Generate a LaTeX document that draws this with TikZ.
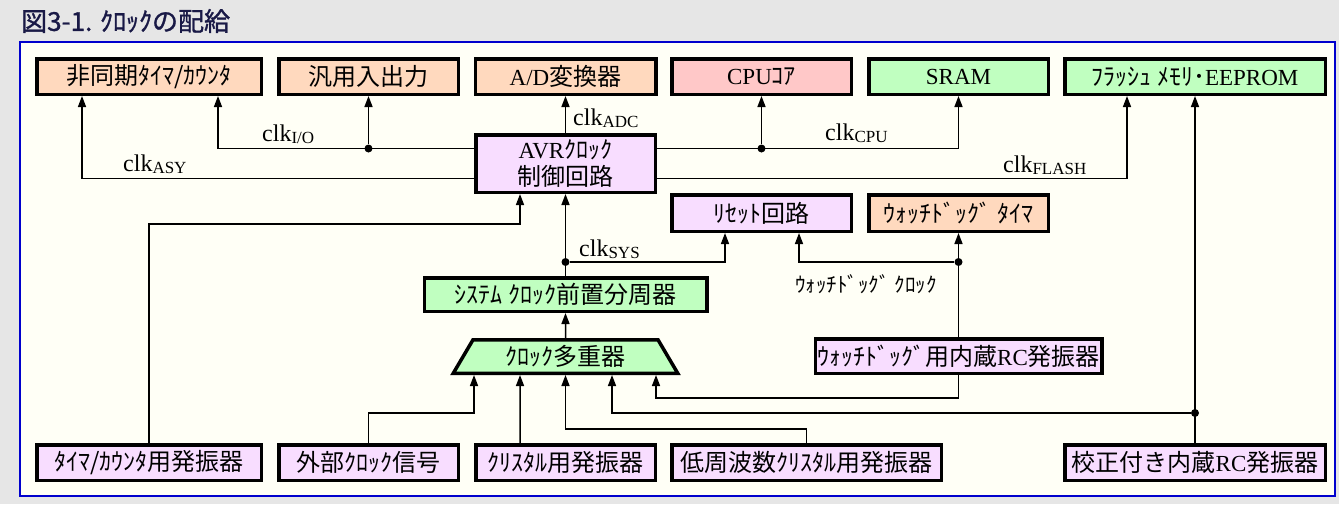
\documentclass[tikz,border=0pt]{standalone}
\usepackage{fontspec}
\setmainfont{Liberation Serif}
\newfontfamily\jp{Noto Sans CJK JP}
\newfontfamily\jptitle[FakeBold=1.2]{Noto Sans CJK JP}
\usetikzlibrary{arrows.meta,shapes.geometric}

\definecolor{peach}{RGB}{255,217,190}
\definecolor{rose}{RGB}{255,200,200}
\definecolor{mint}{RGB}{192,255,192}
\definecolor{lilac}{RGB}{248,221,255}
\definecolor{ivory}{RGB}{255,255,246}
\definecolor{pagegray}{RGB}{230,230,230}
\definecolor{framebl}{RGB}{0,0,205}
\definecolor{titleink}{RGB}{25,25,70}

\newcommand{\clk}[1]{clk\raisebox{-2pt}{\fontsize{17}{17}\selectfont #1}}

\tikzset{
	blk/.style={draw, line width=3.5pt, inner sep=0pt, font=\fontsize{23}{27}\selectfont},
	sig/.style={line width=1.5pt, -{Triangle[length=11pt,width=8pt]}},
	jn/.style={circle, fill, inner sep=0pt, minimum size=8pt},
	lbl/.style={inner sep=0pt, font=\fontsize{24}{24}\selectfont}
}

\begin{document}
\begin{tikzpicture}[x=1pt,y=-1pt]
				\fill[pagegray] (0,0) rectangle (1339,504);
				\draw[framebl, line width=1.5pt, fill=ivory] (20,42) rectangle (1335,496);
				\useasboundingbox (0,0) rectangle (1339,504);
				\node[anchor=west, inner sep=0pt, text=titleink, font=\jptitle\fontsize{26}{26}\selectfont] (title) at (21,21) {図3-1. ｸﾛｯｸの配給};
				
				\node[blk, fill=peach, minimum width=224.5pt, minimum height=35.5pt] (asy) at (149,76.5) {\jp\fontsize{24}{24}\selectfont 非同期ﾀｲﾏ/ｶｳﾝﾀ};
				\node[blk, fill=peach, minimum width=179.5pt, minimum height=35.5pt] (gpio) at (368.5,76.5) {\jp\fontsize{24}{24}\selectfont 汎用入出力};
				\node[blk, fill=peach, minimum width=180.5pt, minimum height=35.5pt] (adc) at (565.5,76.5) {A/D{\jp\fontsize{24}{24}\selectfont 変換器}};
				\node[blk, fill=rose, minimum width=179.5pt, minimum height=35.5pt] (cpu) at (761.5,76.5) {CPU{\jp\fontsize{24}{24}\selectfont ｺｱ}};
				\node[blk, fill=mint, minimum width=179.5pt, minimum height=35.5pt] (sram) at (958.5,76.5) {SRAM};
				\node[blk, fill=mint, minimum width=260.5pt, minimum height=35.5pt] (flash) at (1195,76.5) {{\jp\fontsize{24}{24}\selectfont ﾌﾗｯｼｭ ﾒﾓﾘ･}EEPROM};
				
				\node[blk, fill=lilac, align=center, minimum width=179.5pt, minimum height=57.5pt] (avr) at (565.5,163.5) {AVR{\jp\fontsize{24}{24}\selectfont ｸﾛｯｸ}\\{\jp\fontsize{24}{24}\selectfont 制御回路}};
				\node[blk, fill=lilac, minimum width=179.5pt, minimum height=36.5pt] (rst) at (761.5,213) {\jp\fontsize{24}{24}\selectfont ﾘｾｯﾄ回路};
				\node[blk, fill=peach, minimum width=179.5pt, minimum height=36.5pt] (wdt) at (958.5,213) {\jp\fontsize{24}{24}\selectfont ｳｫｯﾁﾄﾞｯｸﾞ ﾀｲﾏ};
				\node[blk, fill=mint, minimum width=282.5pt, minimum height=33.5pt] (pre) at (565.5,294.5) {\jp\fontsize{24}{24}\selectfont ｼｽﾃﾑ ｸﾛｯｸ前置分周器};
				\node[blk, fill=mint, trapezium, trapezium stretches=true, minimum width=224.5pt, minimum height=33.5pt] (mux) at (565.5,356.5) {\jp\fontsize{24}{24}\selectfont ｸﾛｯｸ多重器};
				\node[blk, fill=lilac, minimum width=286.5pt, minimum height=34.5pt] (wrc) at (958.5,356) {{\jp\fontsize{24}{24}\selectfont ｳｫｯﾁﾄﾞｯｸﾞ用内蔵}RC{\jp\fontsize{24}{24}\selectfont 発振器}};
				
				\node[blk, fill=lilac, minimum width=224.5pt, minimum height=35.5pt] (tco) at (149,462.5) {\jp\fontsize{24}{24}\selectfont ﾀｲﾏ/ｶｳﾝﾀ用発振器};
				\node[blk, fill=lilac, minimum width=179.5pt, minimum height=35.5pt] (ext) at (368.5,462.5) {\jp\fontsize{24}{24}\selectfont 外部ｸﾛｯｸ信号};
				\node[blk, fill=lilac, minimum width=179.5pt, minimum height=35.5pt] (xtal) at (565.5,462.5) {\jp\fontsize{24}{24}\selectfont ｸﾘｽﾀﾙ用発振器};
				\node[blk, fill=lilac, minimum width=269.5pt, minimum height=35.5pt] (lfx) at (806.5,462.5) {\jp\fontsize{24}{24}\selectfont 低周波数ｸﾘｽﾀﾙ用発振器};
				\node[blk, fill=lilac, minimum width=260.5pt, minimum height=35.5pt] (cal) at (1195,462.5) {{\jp\fontsize{24}{24}\selectfont 校正付き内蔵}RC{\jp\fontsize{24}{24}\selectfont 発振器}};
				
				% clocks from the AVR block
				\draw[sig] ([yshift=-15pt]avr.west) -| ([xshift=-67pt]asy.south);
				\draw[sig] ([yshift=15pt]avr.west) -| ([xshift=69pt]asy.south);
				\node[jn] (jio) at (368.5,148.5) {};
				\draw[sig] (jio) -- (gpio.south);
				\draw[sig] (avr.north) -- (adc.south);
				\draw[sig] ([yshift=15pt]avr.east) -| (sram.south);
				\node[jn] (jcpu) at (761.5,148.5) {};
				\draw[sig] (jcpu) -- (cpu.south);
				\draw[sig] ([yshift=-15pt]avr.east) -| ([xshift=-68pt]flash.south);
				
				\node[lbl, anchor=base west] (lasy) at (123,171) {\clk{ASY}};
				\node[lbl, anchor=base west] (lio) at (262,141) {\clk{I/O}};
				\node[lbl, anchor=base west] (ladc) at (573,125) {\clk{ADC}};
				\node[lbl, anchor=base west] (lcpu) at (825,140) {\clk{CPU}};
				\node[lbl, anchor=base west] (lflash) at (1003,172) {\clk{FLASH}};
				
				% system clock
				\coordinate (ttap) at (149,224);
				\draw[sig] (tco.north) -- (ttap) -| ([xshift=-45.5pt]avr.south);
				\draw[sig] (pre.north) -- (avr.south);
				\node[jn] (jsys) at (565.5,262) {};
				\draw[sig] (jsys) -| ([xshift=-36.5pt]rst.south);
				\node[lbl, anchor=base west] (lsys) at (579,256) {\clk{SYS}};
				\draw[sig] (mux.north) -- (pre.south);
				
				% watchdog clock
				\draw[sig] (wrc.north) -- (wdt.south);
				\node[jn] (jwd) at (958.5,262) {};
				\draw[sig] (jwd) -| ([xshift=37.5pt]rst.south);
				\node[inner sep=0pt, font=\jp\fontsize{21}{21}\selectfont] (lwd) at (866,284) {ｳｫｯﾁﾄﾞｯｸﾞ ｸﾛｯｸ};
				
				% multiplexer inputs
				\coordinate (eb) at (368.5,413);
				\draw[sig] (ext.north) -- (eb) -| ([xshift=-91.5pt]mux.south);
				\draw[sig] ([xshift=-45.5pt]xtal.north) -- ([xshift=-45.5pt]mux.south);
				\coordinate (lb) at (806.5,429);
				\draw[sig] (lfx.north) -- (lb) -| (mux.south);
				\draw[sig] (cal.north) -- (flash.south);
				\node[jn] (jcal) at (1195,413) {};
				\draw[sig] (jcal) -| ([xshift=46.5pt]mux.south);
				\coordinate (wb) at (958.5,398);
				\draw[sig] (wrc.south) -- (wb) -| ([xshift=90.5pt]mux.south);
			\end{tikzpicture}
\end{document}
